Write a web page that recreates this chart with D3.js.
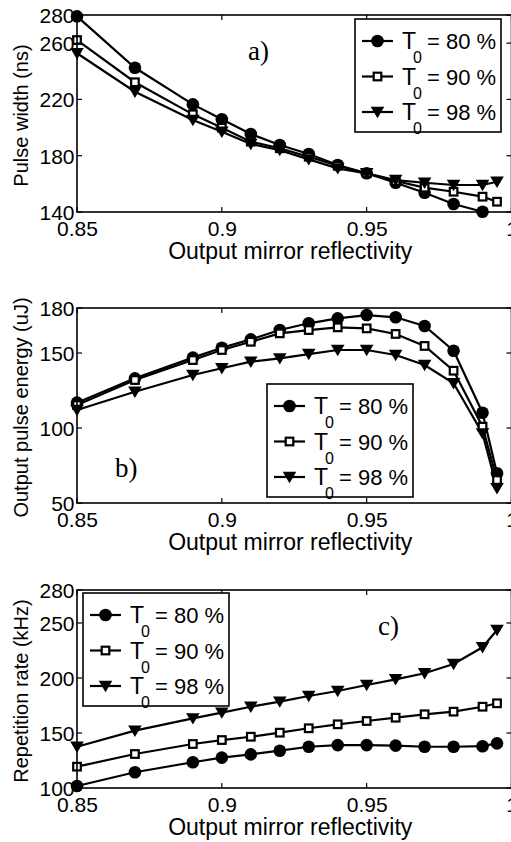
<!DOCTYPE html>
<html lang="en">
	<head>
		<meta charset="utf-8">
		<title>Reflectivity panels</title>
		<script type="text/javascript" src="https://d3js.org/d3.v7.min.js"></script>
		<style type="text/css">
		body{margin:0;background:#ffffff;}
		text{font-family:"Liberation Sans",Arial,Helvetica,sans-serif;fill:#000000;}
		.panelTag{font-family:"Liberation Serif","Times New Roman",serif;}
		</style>
	</head>
	<body>
	<div id="chart"></div>
	<script type="text/javascript">

    //reflectivity values (x) shared by all panels
    var reflectivity = [0.85,0.87,0.89,0.90,0.91,0.92,0.93,0.94,0.95,0.96,0.97,0.98,0.99,0.995]
    var xTicks = [0.85,0.9,0.95,1]
    var seriesNames = ["80 %","90 %","98 %"]

    //a) pulse width (ns)  -- 80 % has no point at 0.995
    var widthT80 = [279,242.5,216.5,205.9,195.4,187.6,181.2,173.4,167.5,160.8,153.7,145.7,140.2,null]
    var widthT90 = [262.2,232.2,209.4,199.9,190,185.3,179.3,172.9,167.5,162,157.3,154.4,150.9,147.3]
    var widthT98 = [252.8,225.5,205.4,197,188.3,184,177.4,171,167.5,162.7,160.8,159.2,159.2,161.5]
    var widthTicks = [140,180,220,260,280]

    //b) output pulse energy (uJ)
    var energyT80 = [116.9,133.1,146.9,153.5,159.1,165.3,169.8,173.1,175.3,173.8,168,151.5,110.2,69.8]
    var energyT90 = [115.3,132,145.3,152,157.5,163.1,165.3,167.1,166.4,162.7,154.7,138.2,100.9,65.3]
    var energyT98 = [112,124.2,135.3,139.8,144.2,146.4,149.3,152,152,148.7,142,129.8,96.4,59.8]
    var energyTicks = [50,100,150,180]

    //c) repetition rate (kHz)
    var rateT80 = [101.8,114.3,123.4,127.6,130.6,133.9,137.5,139,139,138.5,137.5,137.5,138,140.6]
    var rateT90 = [119.4,130.9,140,143.6,146.6,150.3,154.3,157.9,160.9,163.9,167,169.4,173.9,177]
    var rateT98 = [137.5,152.1,163.3,168.5,173.9,178.5,183.6,188.2,193.6,198.8,204.3,212.7,227.9,243.6]
    var rateTicks = [100,150,200,250,280]

    var w = 511
    var h = 842
    var left = 77
    var right = 511.5
    var tickLen = 5

    var svg = d3.select("#chart")
        .append("svg")
        .attr("width",w)
        .attr("height",h)

    var xScale = d3.scaleLinear()
        .domain([0.85,1])
        .range([left,right])

    //marker shapes, one for each series
    function drawMarker(g,kind,x,y){
        if(kind==0){
            g.append("circle").attr("cx",x).attr("cy",y).attr("r",6.3)
                .style("fill","#000")
        }else if(kind==1){
            g.append("rect").attr("x",x-3.8).attr("y",y-3.8).attr("width",7.6).attr("height",7.6)
                .style("fill","#fff").style("stroke","#000").style("stroke-width",2.2)
        }else{
            g.append("path").attr("transform","translate("+x+","+y+")")
                .attr("d","M-6.8,-5.2L6.8,-5.2L0,6.2Z")
                .style("fill","#000")
        }
    }

    function drawPanel(p){
        var yScale = d3.scaleLinear()
            .domain(p.domain)
            .range([p.bottom,p.top])

        var g = svg.append("g")

        //data lines and markers
        var line = d3.line()
            .defined(function(d){ return d!=null })
            .x(function(d,i){ return xScale(reflectivity[i]) })
            .y(function(d){ return yScale(d) })

        p.series.forEach(function(s,k){
            g.append("path")
                .datum(s)
                .attr("d",line)
                .style("fill","none")
                .style("stroke","#000")
                .style("stroke-width",2.2)
        })
        p.series.forEach(function(s,k){
            s.forEach(function(v,i){
                if(v!=null) drawMarker(g,k,xScale(reflectivity[i]),yScale(v))
            })
        })

        //axes with inward ticks, also mirrored on top and right
        var xAxis = d3.axisBottom(xScale).tickValues(xTicks).tickSize(0).tickPadding(0)
            .tickFormat(function(d){ return d==1 ? "1" : d3.format("")(d) })
        var yAxis = d3.axisLeft(yScale).tickValues(p.ticks).tickSize(0).tickPadding(0)

        var xa = svg.append("g")
            .attr("transform","translate(0,"+p.bottom+")")
            .call(xAxis)
        xa.select(".domain").remove()
        xa.selectAll("text").attr("y",24).attr("dy",0)
            .style("font-size","21px").style("font-family","Liberation Sans, Arial, sans-serif")

        var ya = svg.append("g")
            .attr("transform","translate("+left+",0)")
            .call(yAxis)
        ya.select(".domain").remove()
        ya.selectAll("text").attr("x",-2.5).attr("dy","0.36em")
            .style("font-size","21px").style("font-family","Liberation Sans, Arial, sans-serif")

        var ticks = svg.append("g").style("stroke","#000").style("stroke-width",1.2)
        xTicks.forEach(function(t){
            var x = xScale(t)
            ticks.append("line").attr("x1",x).attr("x2",x).attr("y1",p.bottom).attr("y2",p.bottom-tickLen)
            ticks.append("line").attr("x1",x).attr("x2",x).attr("y1",p.top).attr("y2",p.top+tickLen)
        })
        p.ticks.forEach(function(t){
            var y = yScale(t)
            ticks.append("line").attr("x1",left).attr("x2",left+tickLen).attr("y1",y).attr("y2",y)
            ticks.append("line").attr("x1",right).attr("x2",right-tickLen).attr("y1",y).attr("y2",y)
        })

        //plot box
        svg.append("rect")
            .attr("x",left).attr("y",p.top)
            .attr("width",right-left).attr("height",p.bottom-p.top)
            .style("fill","none").style("stroke","#000").style("stroke-width",1.6)

        //axis titles
        svg.append("text")
            .attr("x",(left+right)/2 - 4)
            .attr("y",p.bottom+47)
            .attr("text-anchor","middle")
            .style("font-size","23px")
            .text("Output mirror reflectivity")

        svg.append("text")
            .attr("transform","translate(28,"+((p.top+p.bottom)/2+2)+") rotate(-90)")
            .attr("text-anchor","middle")
            .style("font-size","20px")
            .text(p.yLabel)

        //panel tag
        svg.append("text")
            .attr("class","panelTag")
            .attr("x",p.tag[1]).attr("y",p.tag[2])
            .style("font-size","27px")
            .text(p.tag[0])

        //legend
        var lg = svg.append("g").attr("transform","translate("+p.legend[0]+","+p.legend[1]+")")
        lg.append("rect").attr("x",0).attr("y",0).attr("width",146).attr("height",113)
            .style("fill","#fff").style("stroke","#000").style("stroke-width",1.6)
        seriesNames.forEach(function(name,k){
            var ry = 22 + k*35.5
            lg.append("line").attr("x1",7).attr("x2",38).attr("y1",ry).attr("y2",ry)
                .style("stroke","#000").style("stroke-width",2.2)
            drawMarker(lg,k,22.5,ry)
            lg.append("text").attr("x",47).attr("y",ry+8).style("font-size","23px").text("T")
            lg.append("text").attr("x",58).attr("y",ry+22).style("font-size","16px").text("0")
            lg.append("text").attr("x",72).attr("y",ry+8).style("font-size","22px")
                .attr("xml:space","preserve").text("= "+name)
        })
    }

    drawPanel({
        top:15, bottom:212, domain:[140,280], ticks:widthTicks,
        series:[widthT80,widthT90,widthT98],
        yLabel:"Pulse width (ns)",
        tag:["a)",248,60], legend:[355,19]
    })
    drawPanel({
        top:308, bottom:503, domain:[50,180], ticks:energyTicks,
        series:[energyT80,energyT90,energyT98],
        yLabel:"Output pulse energy (uJ)",
        tag:["b)",115,477], legend:[267,384]
    })
    drawPanel({
        top:590, bottom:788, domain:[100,280], ticks:rateTicks,
        series:[rateT80,rateT90,rateT98],
        yLabel:"Repetition rate (kHz)",
        tag:["c)",378,635], legend:[83,593]
    })

	</script>
	</body>
</html>
